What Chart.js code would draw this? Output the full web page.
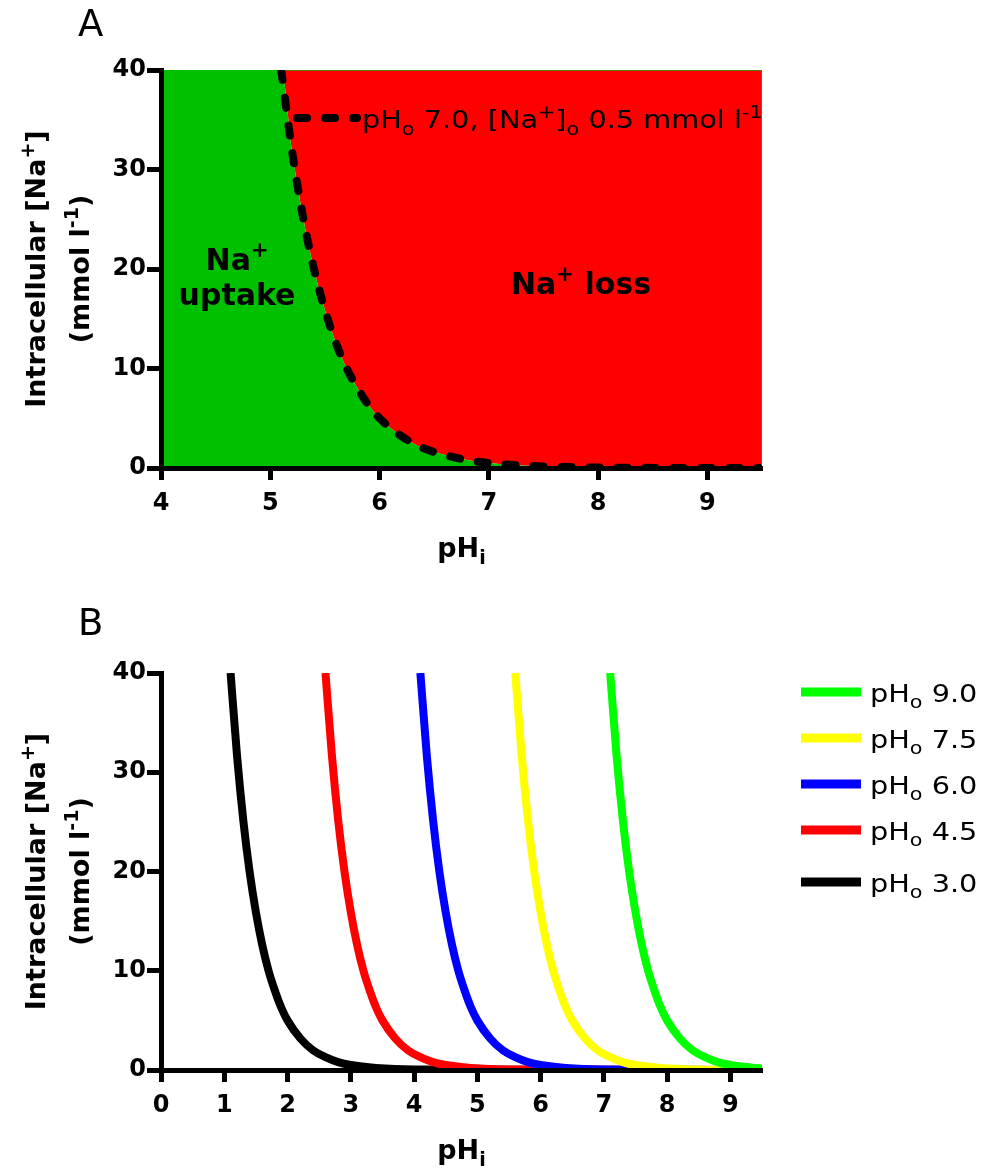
<!DOCTYPE html>
<html><head><meta charset="utf-8">
<script src="https://cdn.jsdelivr.net/npm/chart.js@4.4.1/dist/chart.umd.min.js"></script>
<style>
html,body{margin:0;padding:0;background:#fff;}
#wrap{position:relative;width:984px;height:1169px;overflow:hidden;background:#fff;}
canvas{position:absolute;left:0;}
#cA{top:0;} #cB{top:585px;}
</style></head><body>
<div id="wrap"><canvas id="cA" width="984" height="585"></canvas><canvas id="cB" width="984" height="584"></canvas></div>
<script>
// ---------- DATA ----------
// Panel A: boundary curve, pHo 7.0, [Na+]o 0.5 mmol l-1
const curveA_pHi = [5.1,5.2,5.3,5.4,5.5,5.6,5.7,5.8,5.9,6.0,6.2,6.4,6.6,6.8,7.0,7.4,8.0,8.6,9.5];
const curveA_Na  = [40,31.8,25.2,20,15.9,12.6,10,8,6.3,5,3.2,2,1.3,0.8,0.5,0.2,0.05,0.01,0];
const xRangeA = [4, 9.5];
const xRangeB = [0, 9.5];
const yRange  = [0, 40];
const xTicksA = [4,5,6,7,8,9];
const xTicksB = [0,1,2,3,4,5,6,7,8,9];
const yTicks  = [0,10,20,30,40];

// Panel B: curves for each pHo (legend order)
const seriesPHo = ['9.0','7.5','6.0','4.5','3.0'];
const pHi_90 = [7.1,7.2,7.3,7.4,7.5,7.6,7.7,7.8,7.9,8.0,8.2,8.4,8.6,8.8,9.0,9.4,9.5];
const na_90  = [40,31.8,25.2,20,15.9,12.6,10,8,6.3,5,3.2,2,1.3,0.8,0.5,0.2,0.16];
const pHi_75 = [5.6,5.7,5.8,5.9,6.0,6.1,6.2,6.3,6.4,6.5,6.7,6.9,7.1,7.3,7.5,7.9,8.5,9.5];
const na_75  = [40,31.8,25.2,20,15.9,12.6,10,8,6.3,5,3.2,2,1.3,0.8,0.5,0.2,0.05,0];
const pHi_60 = [4.1,4.2,4.3,4.4,4.5,4.6,4.7,4.8,4.9,5.0,5.2,5.4,5.6,5.8,6.0,6.4,7.0,9.5];
const na_60  = [40,31.8,25.2,20,15.9,12.6,10,8,6.3,5,3.2,2,1.3,0.8,0.5,0.2,0.05,0];
const pHi_45 = [2.6,2.7,2.8,2.9,3.0,3.1,3.2,3.3,3.4,3.5,3.7,3.9,4.1,4.3,4.5,4.9,5.5,9.5];
const na_45  = [40,31.8,25.2,20,15.9,12.6,10,8,6.3,5,3.2,2,1.3,0.8,0.5,0.2,0.05,0];
const pHi_30 = [1.1,1.2,1.3,1.4,1.5,1.6,1.7,1.8,1.9,2.0,2.2,2.4,2.6,2.8,3.0,3.4,4.0,9.5];
const na_30  = [40,31.8,25.2,20,15.9,12.6,10,8,6.3,5,3.2,2,1.3,0.8,0.5,0.2,0.05,0];
const seriesColors = ['#00FF00','#FFFF00','#0000FF','#FF0000','#000000'];

// ---------- helpers ----------
const pts = (xs, ys) => xs.map((x, i) => ({x, y: ys[i]}));
const FAM = 'DejaVu Sans';
function richText(ctx, parts, x, y, o) {
  const fs = o.size, wt = o.weight || 'normal', sx = o.stretch || 1;
  const fontFor = k => `${wt} ${k ? Math.round(fs * 0.7) : fs}px "${FAM}"`;
  let w = 0;
  const ws = parts.map(([t, k]) => { ctx.font = fontFor(k); const m = ctx.measureText(t).width; w += m; return m; });
  ctx.save();
  ctx.translate(x, y);
  if (o.rotate) ctx.rotate(o.rotate);
  ctx.scale(sx, 1);
  ctx.fillStyle = o.color || '#000';
  ctx.textBaseline = 'alphabetic';
  ctx.textAlign = 'left';
  let cx = o.align === 'center' ? -w / 2 : (o.align === 'right' ? -w : 0);
  parts.forEach(([t, k], i) => {
    ctx.font = fontFor(k);
    const dy = k === 'sub' ? fs * 0.26 : (k === 'sup' ? -fs * 0.42 : 0);
    ctx.fillText(t, cx, dy);
    cx += ws[i];
  });
  ctx.restore();
}

function axisOpts(range, ticksArr, isX, extra) {
  return Object.assign({
    type: 'linear',
    min: range[0], max: range[1],
    afterBuildTicks: s => { s.ticks = ticksArr.map(v => ({value: v})); },
    grid: { display: true, drawOnChartArea: false, drawTicks: true,
            tickLength: isX ? 12 : 14, tickWidth: 5, tickColor: '#000', color: '#000' },
    border: { display: true, width: 5, color: '#000', z: 1 },
    ticks: { color: '#000', font: { family: FAM, size: 24, weight: 'bold' },
             padding: isX ? 9 : 1, autoSkip: false, maxRotation: 0 }
  }, extra || {});
}

const yTitle = [
  [['Intracellular [Na',''],['+','sup'],[']','']],
  [['(mmol l',''],['-1','sup'],[')','']]
];
const xTitle = [['pH',''],['i','sub']];

function drawAxisTitles(chart, ctx) {
  const a = chart.chartArea;
  const cy = (a.top + a.bottom) / 2;
  richText(ctx, yTitle[0], 45, cy, {size: 27, weight: 'bold', rotate: -Math.PI / 2, align: 'center'});
  richText(ctx, yTitle[1], 89, cy, {size: 27, weight: 'bold', rotate: -Math.PI / 2, align: 'center'});
  richText(ctx, xTitle, (a.left + a.right) / 2, a.bottom + 89, {size: 27, weight: 'bold', align: 'center'});
}

// ---------- Panel A ----------
const fillPts = [{x: xRangeA[0], y: yRange[1]}].concat(pts(curveA_pHi, curveA_Na));
const annotA = {
  id: 'annotA',
  afterDraw(chart) {
    const ctx = chart.ctx, a = chart.chartArea;
    const xs = chart.scales.x;
    // thin edge on red region
    ctx.save();
    ctx.strokeStyle = '#5a7d00'; ctx.lineWidth = 1;
    ctx.beginPath();
    ctx.moveTo(xs.getPixelForValue(curveA_pHi[0]) + 4, a.top + 0.5);
    ctx.lineTo(a.right - 0.5, a.top + 0.5);
    ctx.lineTo(a.right - 0.5, a.bottom - 3);
    ctx.stroke();
    ctx.restore();
    richText(ctx, [['A','']], 78, 36, {size: 37});
    drawAxisTitles(chart, ctx);
    richText(ctx, [['Na',''],['+','sup']], 237, 270, {size: 30, weight: 'bold', align: 'center'});
    richText(ctx, [['uptake','']], 237, 305, {size: 30, weight: 'bold', align: 'center'});
    richText(ctx, [['Na',''],['+','sup'],[' loss','']], 581, 294, {size: 30, weight: 'bold', align: 'center'});
    // legend
    ctx.save();
    ctx.strokeStyle = '#000'; ctx.lineWidth = 8; ctx.lineCap = 'round';
    ctx.setLineDash([10, 18]);
    ctx.beginPath(); ctx.moveTo(297, 118); ctx.lineTo(357, 118); ctx.stroke();
    ctx.restore();
    richText(ctx, [['pH',''],['o','sub'],[' 7.0, [Na',''],['+','sup'],[']',''],['o','sub'],[' 0.5 mmol l',''],['-1','sup']],
      362, 128, {size: 25, stretch: 1.15});
  }
};

new Chart(document.getElementById('cA'), {
  type: 'line',
  data: {
    datasets: [
      { label: 'pHo 7.0, [Na+]o 0.5 mmol l-1', data: pts(curveA_pHi, curveA_Na),
        borderColor: '#000', borderWidth: 8, borderDash: [10, 18], borderCapStyle: 'round',
        pointRadius: 0, fill: false, cubicInterpolationMode: 'monotone', order: 0 },
      { label: 'uptake', data: fillPts, borderWidth: 0, pointRadius: 0,
        backgroundColor: '#00C000', fill: 'start', cubicInterpolationMode: 'monotone', order: 2 },
      { label: 'loss', data: fillPts, borderWidth: 0, pointRadius: 0,
        backgroundColor: '#FF0000', fill: 'end', cubicInterpolationMode: 'monotone', order: 3 }
    ]
  },
  options: {
    responsive: false, animation: false, events: [],
    layout: { padding: { left: 0, top: 70, right: 222, bottom: 0 } },
    plugins: { legend: { display: false }, tooltip: { enabled: false } },
    scales: {
      x: axisOpts(xRangeA, xTicksA, true, { afterFit: s => { s.height = 117; } }),
      y: axisOpts(yRange, yTicks, false, { afterFit: s => { s.width = 161; } })
    }
  },
  plugins: [annotA]
});

// ---------- Panel B ----------
const seriesB = [
  [pHi_90, na_90], [pHi_75, na_75], [pHi_60, na_60], [pHi_45, na_45], [pHi_30, na_30]
];
const legendRowsY = [692, 738, 784, 830, 882];
const annotB = {
  id: 'annotB',
  afterDraw(chart) {
    const ctx = chart.ctx;
    richText(ctx, [['B','']], 78, 50, {size: 37});
    drawAxisTitles(chart, ctx);
    seriesPHo.forEach((lab, i) => {
      const yc = legendRowsY[i] - 585;
      ctx.save();
      ctx.strokeStyle = seriesColors[i]; ctx.lineWidth = 9; ctx.lineCap = 'butt';
      ctx.beginPath(); ctx.moveTo(801, yc); ctx.lineTo(861, yc); ctx.stroke();
      ctx.restore();
      richText(ctx, [['pH',''],['o','sub'],[' ' + lab,'']], 870, yc + 9.5, {size: 25, stretch: 1.15});
    });
  }
};

new Chart(document.getElementById('cB'), {
  type: 'line',
  data: {
    datasets: seriesB.map(([xs, ys], i) => ({
      label: 'pHo ' + seriesPHo[i], data: pts(xs, ys),
      borderColor: seriesColors[i], borderWidth: 8, pointRadius: 0, fill: false,
      cubicInterpolationMode: 'monotone'
    }))
  },
  options: {
    responsive: false, animation: false, events: [],
    layout: { padding: { left: 0, top: 88, right: 222, bottom: 0 } },
    plugins: { legend: { display: false }, tooltip: { enabled: false } },
    scales: {
      x: axisOpts(xRangeB, xTicksB, true, { afterFit: s => { s.height = 99; } }),
      y: axisOpts(yRange, yTicks, false, { afterFit: s => { s.width = 161; } })
    }
  },
  plugins: [annotB]
});
</script>
</body></html>
